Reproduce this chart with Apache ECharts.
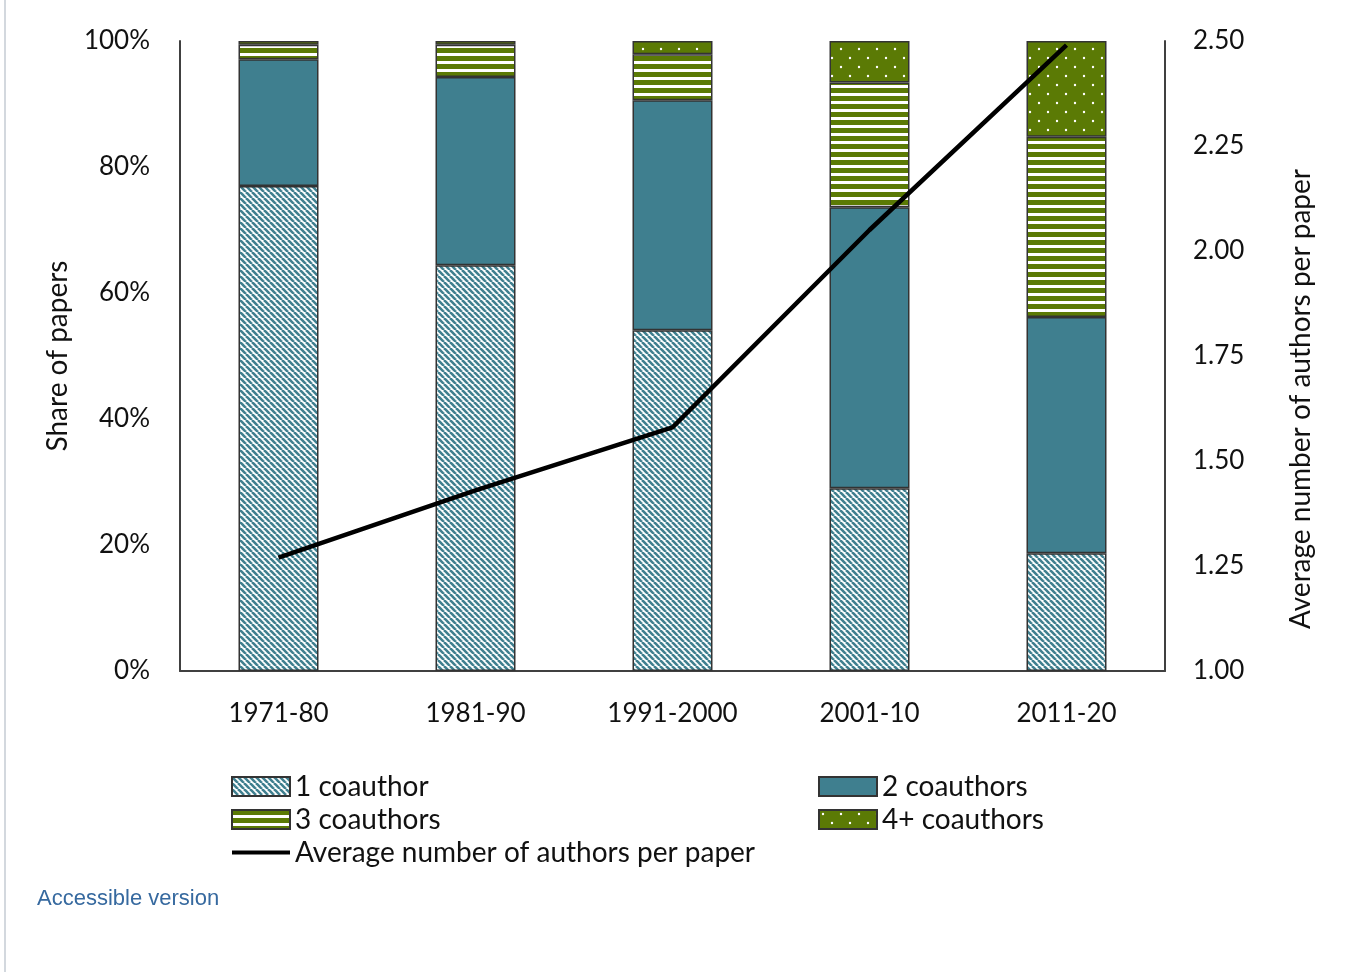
<!DOCTYPE html>
<html>
<head>
<meta charset="utf-8">
<script src="https://cdn.jsdelivr.net/npm/echarts@6/dist/echarts.min.js"></script>
<style>
  html, body { margin: 0; padding: 0; background: #fff; }
  #chart { width: 1352px; height: 972px; }
</style>
</head>
<body>
<div id="chart"></div>
<script>
// data
const periods = ["1971-80", "1981-90", "1991-2000", "2001-10", "2011-20"];
const oneCoauthor = [77.0, 64.4, 54.1, 29.0, 18.7];
const twoCoauthors = [20.1, 29.9, 36.5, 44.6, 37.5];
const threeCoauthors = [2.3, 5.1, 7.3, 19.8, 28.6];
const fourPlusCoauthors = [0.6, 0.6, 2.1, 6.6, 15.2];
const avgAuthors = [1.27, 1.43, 1.58, 2.05, 2.49];

const TEAL = "#3f7f8f";
const GREEN = "#5b7a05";
const FONT = "Lato";
const AVG_NAME = "Average number of authors per paper";

// small tiles used as pattern fills
function makeTile(w, h, draw) {
  const c = document.createElement("canvas");
  c.width = w;
  c.height = h;
  draw(c.getContext("2d"));
  return { image: c, repeat: "repeat" };
}

const diagPattern = makeTile(6, 6, (ctx) => {
  ctx.fillStyle = "#fff";
  ctx.fillRect(0, 0, 6, 6);
  ctx.strokeStyle = TEAL;
  ctx.lineWidth = 2.6;
  for (let o = -6; o <= 6; o += 6) {
    ctx.beginPath();
    ctx.moveTo(o, 0);
    ctx.lineTo(o + 6, 6);
    ctx.stroke();
  }
});

const stripePattern = makeTile(8, 8, (ctx) => {
  ctx.fillStyle = "#fff";
  ctx.fillRect(0, 0, 8, 8);
  ctx.fillStyle = GREEN;
  ctx.fillRect(0, 0, 8, 5);
});

const dotPattern = makeTile(18, 18, (ctx) => {
  ctx.fillStyle = GREEN;
  ctx.fillRect(0, 0, 18, 18);
  ctx.fillStyle = "#fff";
  ctx.beginPath();
  ctx.arc(4, 4, 1.2, 0, Math.PI * 2);
  ctx.arc(13, 13, 1.2, 0, Math.PI * 2);
  ctx.fill();
});

const barStyle = (fill) => ({
  color: fill,
  borderColor: "#333",
  borderWidth: 1.5,
});

const labelStyle = { color: "#111", fontFamily: FONT, fontSize: 26 };
const nameStyle = { color: "#111", fontFamily: FONT, fontSize: 28 };
const legendText = { color: "#111", fontFamily: FONT, fontSize: 28, lineHeight: 29 };

const chart = echarts.init(document.getElementById("chart"));
chart.setOption({
  animation: false,
  textStyle: { fontFamily: FONT },
  grid: { left: 180, right: 187, top: 41, bottom: 301 },
  legend: [
    {
      left: 225, top: 767, orient: "vertical",
      itemWidth: 58, itemHeight: 19, itemGap: 4,
      lineStyle: { width: 4 },
      textStyle: legendText,
      data: [
        { name: "1 coauthor", icon: "rect" },
        { name: "3 coauthors", icon: "rect" },
        { name: AVG_NAME },
      ],
    },
    {
      left: 813, top: 767, orient: "vertical",
      itemWidth: 58, itemHeight: 19, itemGap: 4,
      icon: "rect",
      textStyle: legendText,
      data: ["2 coauthors", "4+ coauthors"],
    },
  ],
  xAxis: {
    type: "category",
    data: periods,
    axisTick: { show: false },
    axisLine: { lineStyle: { color: "#404040", width: 2 } },
    axisLabel: Object.assign({ margin: 30 }, labelStyle),
  },
  yAxis: [
    {
      type: "value",
      min: 0, max: 100, interval: 20,
      name: "Share of papers",
      nameLocation: "middle",
      nameGap: 108,
      nameRotate: 90,
      nameTextStyle: nameStyle,
      splitLine: { show: false },
      axisTick: { show: false },
      axisLine: { show: true, lineStyle: { color: "#404040", width: 2 } },
      axisLabel: Object.assign({ margin: 30, formatter: "{value}%", padding: [4, 0, 0, 0] }, labelStyle),
    },
    {
      type: "value",
      position: "right",
      min: 1, max: 2.5, interval: 0.25,
      name: AVG_NAME,
      nameLocation: "middle",
      nameGap: 122,
      nameRotate: 90,
      nameTextStyle: Object.assign({ padding: [0, 86, 0, 0] }, nameStyle),
      splitLine: { show: false },
      axisTick: { show: false },
      axisLine: { show: true, lineStyle: { color: "#404040", width: 2 } },
      axisLabel: Object.assign({ margin: 28, formatter: (v) => v.toFixed(2), padding: [4, 0, 0, 0] }, labelStyle),
    },
  ],
  series: [
    { name: "1 coauthor", type: "bar", stack: "share", barWidth: 80, data: oneCoauthor, itemStyle: barStyle(diagPattern) },
    { name: "2 coauthors", type: "bar", stack: "share", barWidth: 80, data: twoCoauthors, itemStyle: barStyle(TEAL) },
    { name: "3 coauthors", type: "bar", stack: "share", barWidth: 80, data: threeCoauthors, itemStyle: barStyle(stripePattern) },
    { name: "4+ coauthors", type: "bar", stack: "share", barWidth: 80, data: fourPlusCoauthors, itemStyle: barStyle(dotPattern) },
    {
      name: AVG_NAME,
      type: "line",
      yAxisIndex: 1,
      data: avgAuthors,
      symbol: "none",
      z: 5,
      lineStyle: { color: "#000", width: 4.5 },
      // transparent so the legend shows only the line, not a dot
      itemStyle: { color: "rgba(0,0,0,0)" },
    },
  ],
  graphic: [
    {
      type: "line",
      shape: { x1: 5, y1: 0, x2: 5, y2: 972 },
      style: { stroke: "#d3d8de", lineWidth: 2 },
    },
    {
      type: "text",
      left: 37, top: 888,
      style: { text: "Accessible version", fill: "#36699f", font: "22px 'Liberation Sans', Arial, sans-serif" },
    },
  ],
});
</script>
</body>
</html>
